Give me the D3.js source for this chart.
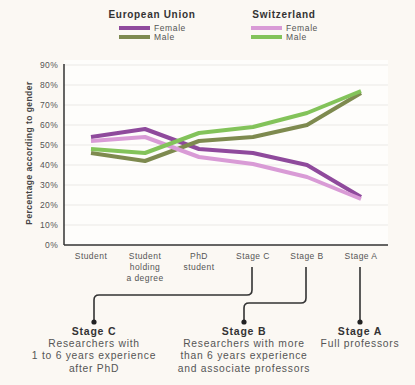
<!DOCTYPE html>
<html><head><meta charset="utf-8">
<script src="https://cdn.jsdelivr.net/npm/d3@7"></script>
<style>
html,body{margin:0;padding:0;background:#fbf8f3;}
svg{display:block;font-family:"Liberation Sans",Arial,sans-serif;}
</style></head><body>
<div id="chart"></div>
<script>
const categories = ["Student", "Student holding a degree", "PhD student", "Stage C", "Stage B", "Stage A"];
const categoryLines = [["Student"], ["Student", "holding", "a degree"], ["PhD", "student"], ["Stage C"], ["Stage B"], ["Stage A"]];
const euFemale = [54, 58, 48, 46, 40, 24];
const euMale = [46, 42, 52, 54, 60, 76];
const chFemale = [52, 54, 44, 40.5, 34, 23];
const chMale = [48, 46, 56, 59, 66, 77];
const yTicks = [0, 10, 20, 30, 40, 50, 60, 70, 80, 90];
const groups = ["European Union", "Switzerland"];
const stageNotes = [
  {cat: "Stage C", title: "Stage C", lines: ["Researchers with", "1 to 6 years experience", "after PhD"]},
  {cat: "Stage B", title: "Stage B", lines: ["Researchers with more", "than 6 years experience", "and associate professors"]},
  {cat: "Stage A", title: "Stage A", lines: ["Full professors"]}
];

const series = [
  {name: "EU Female", values: euFemale, color: "#8f4a9c"},
  {name: "EU Male", values: euMale, color: "#7e8a4f"},
  {name: "CH Female", values: chFemale, color: "#d99bd6"},
  {name: "CH Male", values: chMale, color: "#83c35a"}
];

(function () {
const W = 415, H = 385;
const svg = d3.select("#chart").append("svg").attr("width", W).attr("height", H);
svg.append("rect").attr("width", W).attr("height", H).attr("fill", "#fbf8f3");

const mLeft = 64, mRight = 388, mTop = 65, mBottom = 245;
const x = d3.scaleBand().domain(categories).range([mLeft, mRight]);
const xc = c => x(c) + x.bandwidth() / 2;
const y = d3.scaleLinear().domain([0, 90]).range([mBottom, mTop]);

svg.append("rect").attr("x", mLeft).attr("y", mTop - 5).attr("width", mRight - mLeft).attr("height", mBottom - mTop + 5).attr("fill", "#fefdfb");

svg.append("g").selectAll("line").data(yTicks.filter(t => t > 0)).join("line")
  .attr("x1", mLeft).attr("x2", mRight).attr("y1", d => y(d)).attr("y2", d => y(d))
  .attr("stroke", "#ebe9e6").attr("stroke-width", 1);

const yAxis = d3.axisLeft(y).tickValues(yTicks).tickFormat(d => d + "%").tickSize(0).tickPadding(6);
const yg = svg.append("g").attr("transform", `translate(${mLeft},0)`).call(yAxis);
yg.select(".domain").remove();
yg.selectAll("text").attr("font-size", 8.5).attr("fill", "#555").attr("letter-spacing", 0.3)
  .attr("font-family", "Liberation Sans, Arial, sans-serif");
svg.append("line").attr("x1", mLeft).attr("x2", mLeft).attr("y1", mTop - 1).attr("y2", mBottom).attr("stroke", "#333").attr("stroke-width", 1.5);
svg.append("line").attr("x1", mLeft).attr("x2", mRight).attr("y1", mBottom).attr("y2", mBottom).attr("stroke", "#333").attr("stroke-width", 1.5);

svg.append("text").attr("transform", `translate(32,${(mTop + mBottom) / 2 - 2}) rotate(-90)`)
  .attr("text-anchor", "middle").attr("font-size", 8.5).attr("font-weight", "bold").attr("fill", "#444")
  .attr("letter-spacing", 0.45)
  .text("Percentage according to gender");

const xl = svg.append("g");
categories.forEach((c, i) => {
  const t = xl.append("text").attr("x", xc(c)).attr("y", 259).attr("text-anchor", "middle")
    .attr("font-size", 8.5).attr("fill", "#555").attr("letter-spacing", 0.45);
  categoryLines[i].forEach((ln, j) => t.append("tspan").attr("x", xc(c)).attr("dy", j === 0 ? 0 : 10.8).text(ln));
});

const line = d3.line().x((d, i) => xc(categories[i])).y(d => y(d));
svg.append("g").selectAll("path").data(series).join("path")
  .attr("d", d => line(d.values)).attr("fill", "none").attr("stroke", d => d.color)
  .attr("stroke-width", 4).attr("stroke-linejoin", "round").attr("stroke-linecap", "butt");

const lg = [{x: 152, s: [series[0], series[1]]}, {x: 284, s: [series[2], series[3]]}];
lg.forEach((g, gi) => {
  svg.append("text").attr("x", g.x).attr("y", 18).attr("text-anchor", "middle")
    .attr("font-size", 10).attr("font-weight", "bold").attr("fill", "#333").attr("letter-spacing", 0.7).text(groups[gi]);
  g.s.forEach((s, j) => {
    const yy = 28 + j * 9;
    svg.append("line").attr("x1", g.x - 33).attr("x2", g.x - 2).attr("y1", yy).attr("y2", yy)
      .attr("stroke", s.color).attr("stroke-width", 4);
    svg.append("text").attr("x", g.x + 2).attr("y", yy + 3).attr("font-size", 8.5).attr("fill", "#555")
      .attr("letter-spacing", 0.6).text(j === 0 ? "Female" : "Male");
  });
});

const noteX = {"Stage C": 94, "Stage B": 244, "Stage A": 360};
const r = 5;
const connectors = [
  {cat: "Stage C", yBend: 295},
  {cat: "Stage B", yBend: 303},
  {cat: "Stage A", yBend: null}
];
const dotY = 322;
connectors.forEach(cn => {
  const x0 = xc(cn.cat) - 1, x1 = noteX[cn.cat];
  let d;
  if (cn.yBend === null) {
    d = `M${x0},267 L${x0},${dotY}`;
  } else {
    d = `M${x0},267 L${x0},${cn.yBend - r} Q${x0},${cn.yBend} ${x0 - r},${cn.yBend} L${x1 + r},${cn.yBend} Q${x1},${cn.yBend} ${x1},${cn.yBend + r} L${x1},${dotY}`;
  }
  svg.append("path").attr("d", d).attr("fill", "none").attr("stroke", "#333").attr("stroke-width", 1.6);
  svg.append("circle").attr("cx", cn.yBend === null ? x0 : x1).attr("cy", dotY).attr("r", 2.6).attr("fill", "#222");
});

stageNotes.forEach(n => {
  const cx = n.cat === "Stage A" ? xc(n.cat) - 1 : noteX[n.cat];
  svg.append("text").attr("x", cx).attr("y", 334.5).attr("text-anchor", "middle")
    .attr("font-size", 10.5).attr("font-weight", "bold").attr("fill", "#333").attr("letter-spacing", 0.8).text(n.title);
  n.lines.forEach((ln, j) => {
    svg.append("text").attr("x", cx).attr("y", 347 + j * 12.4).attr("text-anchor", "middle")
      .attr("font-size", 10.3).attr("fill", "#555").attr("letter-spacing", 0.75).text(ln);
  });
});
})();
</script>
</body></html>
